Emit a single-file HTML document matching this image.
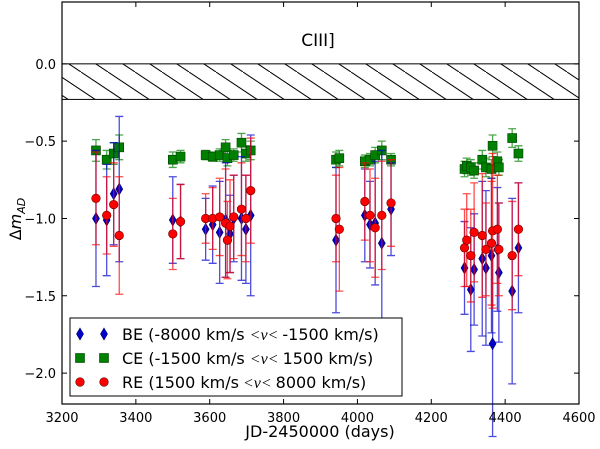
<!DOCTYPE html>
<html><head><meta charset="utf-8"><style>
body{margin:0;background:#fff;font-family:"Liberation Sans","DejaVu Sans",sans-serif;}
svg text{font-family:"DejaVu Sans","Liberation Sans",sans-serif;}
</style></head><body>
<svg id="chart" width="600" height="444" xmlns="http://www.w3.org/2000/svg">
<defs><pattern id="hatch" patternUnits="userSpaceOnUse" width="27" height="36"><path d="M-27,0 L27,36 M0,0 L54,36 M-54,0 L0,36" stroke="#000" stroke-width="1"/></pattern></defs>
<g id="plot"></g>
</svg>
<script>
const beX=[3292,3321,3340,3355,3500,3521,3589,3608,3627,3643,3655,3665,3686,3698,3711,3942,4020,4034,4048,4066,4091,4290,4307,4316,4338,4348,4363,4366,4379,4383,4419,4436];
const beY=[-1.00,-1.01,-0.84,-0.81,-1.01,-1.02,-1.07,-1.04,-1.09,-1.01,-1.10,-1.00,-1.00,-1.07,-0.98,-1.14,-0.98,-1.04,-1.03,-1.16,-0.94,-1.32,-1.46,-1.33,-1.26,-1.32,-1.24,-1.81,-1.20,-1.35,-1.47,-1.19];
const beE=[0.44,0.36,0.33,0.47,0.28,0.24,0.20,0.25,0.33,0.37,0.25,0.28,0.40,0.35,0.52,0.47,0.30,0.28,0.40,0.60,0.30,0.30,0.40,0.36,0.50,0.50,0.50,0.60,0.40,0.45,0.60,0.42];
const ceX=[3292,3321,3340,3355,3500,3521,3589,3608,3627,3643,3648,3665,3686,3698,3711,3942,3951,4020,4034,4048,4066,4091,4290,4296,4307,4316,4338,4348,4363,4366,4379,4383,4419,4436];
const ceY=[-0.56,-0.62,-0.58,-0.54,-0.62,-0.60,-0.59,-0.60,-0.59,-0.54,-0.61,-0.59,-0.51,-0.58,-0.56,-0.62,-0.61,-0.63,-0.62,-0.59,-0.56,-0.62,-0.68,-0.66,-0.67,-0.69,-0.62,-0.67,-0.68,-0.53,-0.63,-0.67,-0.48,-0.58];
const ceE=[0.07,0.06,0.07,0.08,0.05,0.04,0.03,0.03,0.04,0.05,0.05,0.04,0.06,0.05,0.06,0.05,0.05,0.04,0.04,0.05,0.06,0.04,0.05,0.05,0.05,0.05,0.06,0.06,0.06,0.07,0.06,0.05,0.06,0.05];
const reX=[3292,3321,3340,3355,3500,3521,3589,3608,3627,3643,3648,3655,3665,3686,3698,3711,3942,3951,4020,4034,4048,4066,4091,4290,4296,4307,4316,4338,4348,4363,4366,4379,4383,4419,4436];
const reY=[-0.87,-0.98,-0.91,-1.11,-1.10,-1.02,-1.00,-1.00,-0.99,-1.03,-1.14,-1.05,-0.99,-0.94,-1.00,-0.82,-1.00,-1.07,-0.89,-0.98,-1.06,-0.98,-0.90,-1.19,-1.14,-1.24,-1.09,-1.11,-1.20,-1.16,-1.08,-1.07,-1.20,-1.24,-1.07];
const reE=[0.30,0.25,0.27,0.38,0.23,0.24,0.16,0.20,0.25,0.35,0.25,0.30,0.27,0.30,0.28,0.34,0.28,0.40,0.25,0.30,0.32,0.35,0.28,0.25,0.30,0.30,0.32,0.40,0.30,0.40,0.50,0.35,0.30,0.35,0.30];
const xTicks=[3200,3400,3600,3800,4000,4200,4400,4600];
const yTicks=[0.0,-0.5,-1.0,-1.5,-2.0];

const L=62,R=579,T=2,B=404,XMIN=3200,XMAX=4600,YMAX=0.4,YMIN=-2.2;
const sx=v=>L+(v-XMIN)/(XMAX-XMIN)*(R-L);
const sy=v=>T+(YMAX-v)/(YMAX-YMIN)*(B-T);
const NS="http://www.w3.org/2000/svg";
const g=document.getElementById('plot');
function mk(tag,attrs,parent){const e=document.createElementNS(NS,tag);for(const k in attrs)e.setAttribute(k,attrs[k]);(parent||g).appendChild(e);return e;}

// hatch band
const hb=mk('rect',{x:L,y:sy(0),width:R-L,height:sy(-0.23)-sy(0),fill:'url(#hatch)',stroke:'#000','stroke-width':1});



function series(xs,ys,es,color,edge,shape,name){
  const sg=mk('g',{});
  
  
  xs.forEach((x,i)=>{
    const px=sx(x),y1=sy(ys[i]+es[i]),y2=sy(ys[i]-es[i]);
    const eb=mk('path',{d:`M${px},${y1}V${y2}M${px-4},${y1}H${px+4}M${px-4},${y2}H${px+4}`,stroke:color,'stroke-width':1.3,'stroke-opacity':0.7,fill:'none'},sg);
    
    
  });
  xs.forEach((x,i)=>{
    const m=marker(sx(x),sy(ys[i]),shape,color,edge,sg);
    
    
  });
}
function marker(px,py,shape,color,edge,parent){
  if(shape==='d')return mk('path',{d:`M${px},${py-6}L${px+3.5},${py}L${px},${py+6}L${px-3.5},${py}Z`,fill:color,stroke:edge,'stroke-width':0.6},parent);
  if(shape==='s')return mk('rect',{x:px-4.5,y:py-4.5,width:9,height:9,fill:color,stroke:edge,'stroke-width':0.6},parent);
  return mk('circle',{cx:px,cy:py,r:4.3,fill:color,stroke:'#600','stroke-width':0.6},parent);
}
series(ceX,ceY,ceE,'#008000','#004000','s','ce');
series(beX,beY,beE,'#0000cc','#000060','d','be');
series(reX,reY,reE,'#ff0000','#600','o','re');

// frame
const fr=mk('rect',{x:L,y:T,width:R-L,height:B-T,fill:'none',stroke:'#000','stroke-width':1.2});



xTicks.forEach(v=>{
  const px=sx(v);
  mk('path',{d:`M${px},${B}v-5M${px},${T}v5`,stroke:'#000'});
  const t=mk('text',{x:px,y:B+18,'text-anchor':'middle','font-size':13});
  t.textContent=v;
  
  
});
yTicks.forEach(v=>{
  const py=sy(v);
  mk('path',{d:`M${L},${py}h5M${R},${py}h-5`,stroke:'#000'});
  const t=mk('text',{x:L-6,y:py+5,'text-anchor':'end','font-size':13});
  t.textContent=(v<0?'\u2212':'')+Math.abs(v).toFixed(1);
  
  
});

const title=mk('text',{x:318,y:46,'text-anchor':'middle','font-size':17});
title.textContent='CIII]';


const xl=mk('text',{x:320,y:437,'text-anchor':'middle','font-size':16});
xl.textContent='JD-2450000 (days)';


const yl=mk('text',{x:0,y:0,'text-anchor':'middle','font-size':16,'font-family':'Liberation Serif, serif',transform:'translate(21,219) rotate(-90)'});
yl.innerHTML='<tspan>\u0394</tspan><tspan font-style="italic">m</tspan><tspan font-style="italic" font-size="11" dy="4">AD</tspan>';



// legend
const lg=mk('g',{});


mk('rect',{x:70,y:318,width:332,height:78,fill:'#fff',stroke:'#000','stroke-width':1},lg);
const entries=[['d','#0000cc','#000060','BE (-8000 km/s ','-1500 km/s)'],['s','#008000','#004000','CE (-1500 km/s ','1500 km/s)'],['o','#ff0000','#600','RE (1500 km/s','8000 km/s)']];
entries.forEach((e,i)=>{
  const y=334+i*24;
  const eg=mk('g',{},lg);
  
  
  marker(80,y,e[0],e[1],e[2],eg);marker(104,y,e[0],e[1],e[2],eg);
  const t=mk('text',{x:122,y:y+6,'font-size':16},eg);
  t.innerHTML=e[3]+'<tspan font-family="Liberation Serif, serif" font-style="italic"> &lt;v&lt; </tspan>'+e[4];
});
</script>
</body></html>
